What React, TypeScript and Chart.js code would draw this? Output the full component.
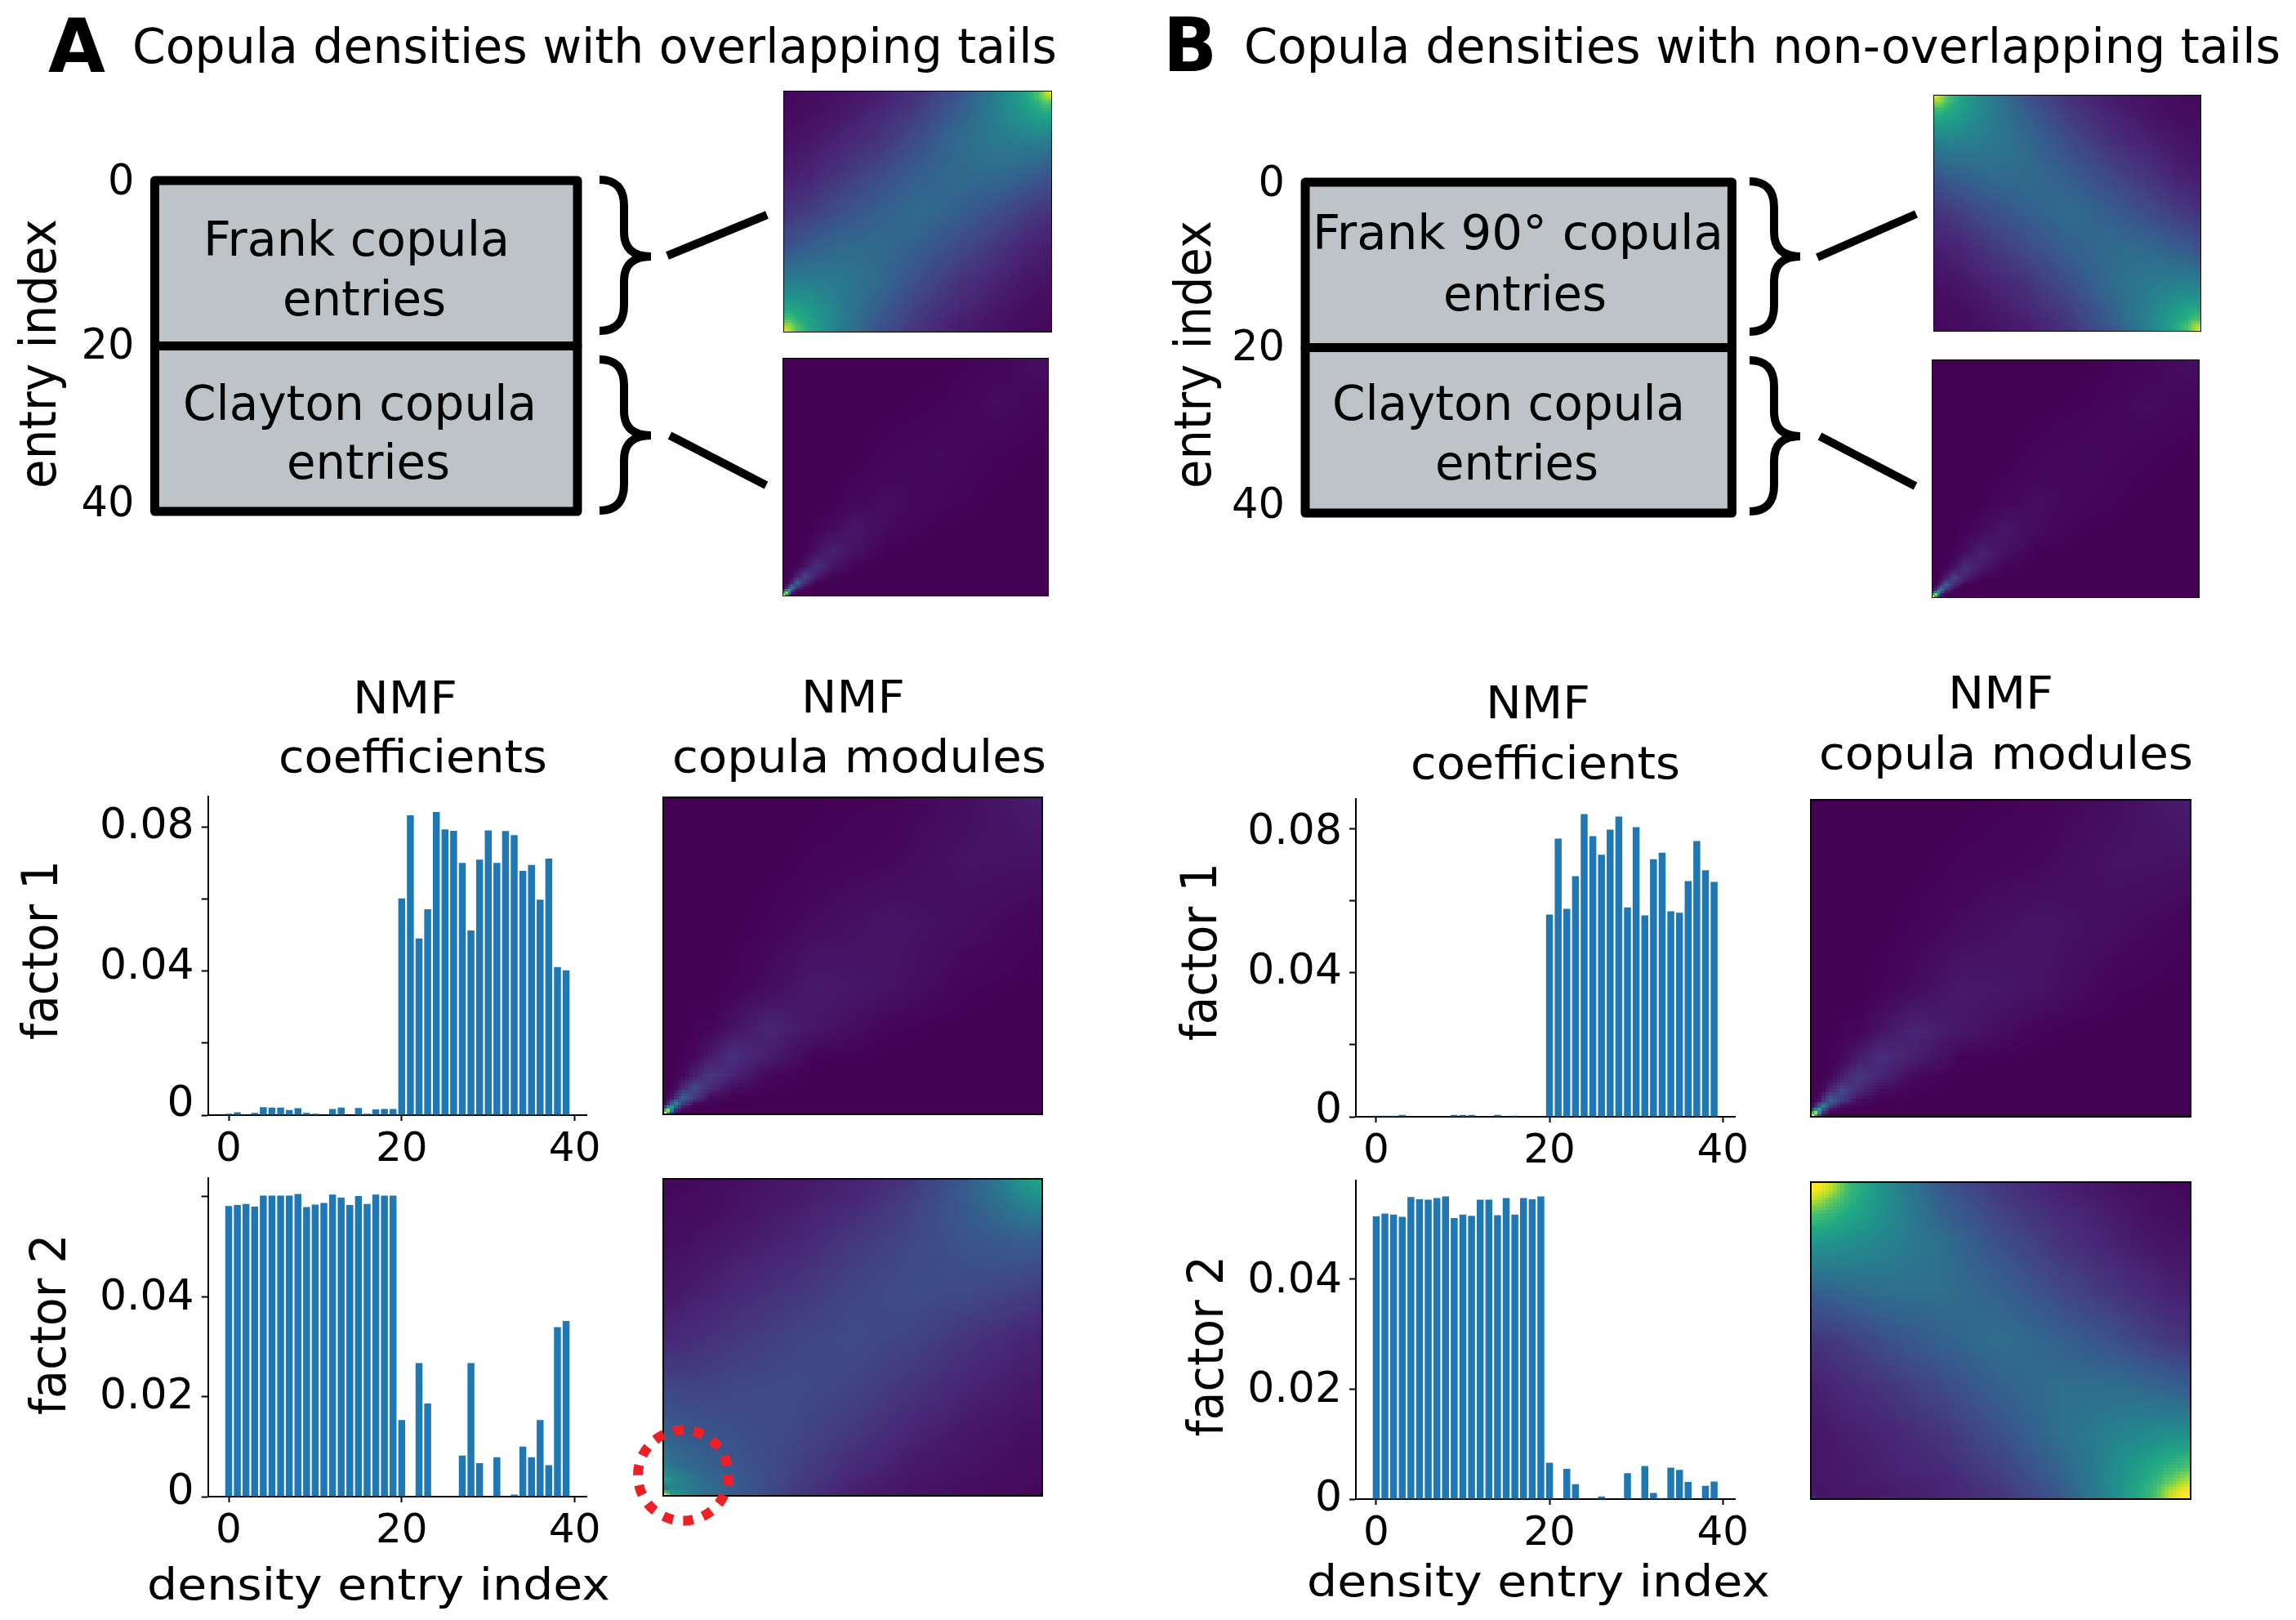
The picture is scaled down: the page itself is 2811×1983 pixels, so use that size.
import React, { useEffect, useRef } from "react";
import { Chart, registerables } from "chart.js";

Chart.register(...registerables);

// ---------- bar values (index 0..39) ----------
const entryIndex = Array.from({ length: 40 }, (_, i) => i);
const coefA1 = [0.0004,0.0008,0,0.0006,0.0022,0.0021,0.0021,0.0014,0.0019,0.0006,0.0004,0,0.0017,0.0021,0,0.002,0.0004,0.0016,0.0017,0.0017,0.0601,0.0832,0.049,0.0571,0.0841,0.0793,0.0789,0.07,0.0512,0.0709,0.079,0.07,0.0788,0.0777,0.0678,0.0694,0.0598,0.0712,0.0411,0.0402];
const coefA2 = [0.0581,0.0583,0.0585,0.058,0.0602,0.0602,0.0602,0.0602,0.0605,0.0579,0.0584,0.0587,0.0604,0.0598,0.0583,0.0601,0.0585,0.0604,0.0602,0.0602,0.0153,0,0.0267,0.0186,0,0,0,0.0082,0.0267,0.0067,0,0.0079,0,0.0004,0.01,0.0079,0.0153,0.0063,0.0339,0.0351];
const coefB1 = [0.0003,0.0003,0.0003,0.0005,0,0,0,0,0,0.0005,0.0005,0.0005,0,0,0.0005,0,0.0003,0,0,0,0.0561,0.0772,0.0577,0.0668,0.084,0.0779,0.0727,0.0797,0.0833,0.0581,0.0804,0.0559,0.0715,0.0733,0.057,0.0566,0.0654,0.0765,0.0684,0.0652];
const coefB2 = [0.0513,0.0518,0.0516,0.0512,0.0548,0.0544,0.0543,0.0546,0.0549,0.051,0.0516,0.0514,0.0543,0.0543,0.0515,0.0546,0.0516,0.0546,0.0544,0.0549,0.0066,0,0.0055,0.0027,0,0,0.0005,0,0,0.0047,0,0.006,0.0011,0.0002,0.0057,0.0053,0.0031,0,0.0024,0.0032];

// ---------- ticks: tick marks, then labels (the reference's labels sit slightly off their marks) ----------
const xTickValues = [0, 20, 40];
const factor1Marks = [0, 0.02, 0.04, 0.06, 0.08];
const factorA2Marks = [0, 0.02, 0.04, 0.06];
const factorB2Marks = [0, 0.02, 0.04];
const labelsA1 = ["0", "0.04", "0.08"];
const labelSpotsA1 = [0.0028, 0.041, 0.08];
const labelsA2 = ["0", "0.02", "0.04"];
const labelSpotsA2 = [0.0007, 0.0198, 0.0396];
const labelsB1 = ["0", "0.04", "0.08"];
const labelSpotsB1 = [0.0015, 0.04, 0.0789];
const labelsB2 = ["0", "0.02", "0.04"];
const labelSpotsB2 = [0, 0.0197, 0.0395];
const entryTicks = [0.4, 20.2, 39.3];
const entryLabels = ["0", "20", "40"];

// ---------- density grids: rows run bottom to top, columns left to right ----------
const frankKnots = [0.5, 2.5, 5.5, 10, 20, 35, 50, 65, 80, 90, 94.5, 97.5, 99.5];
const clayKnots = [0.5, 1.5, 2.5, 3.5, 5.5, 8.5, 12.5, 18.5, 27.5, 40, 60, 80, 99.5];

const frankRows = [
  [1.0,.87,.70,.58,.42,.25,.14,.08,.04,.03,.02,.02,.02],
  [.87,.84,.70,.58,.43,.26,.15,.08,.05,.03,.03,.02,.02],
  [.70,.70,.63,.56,.44,.28,.16,.09,.05,.03,.03,.03,.02],
  [.58,.58,.56,.53,.43,.30,.18,.11,.06,.04,.03,.03,.03],
  [.42,.43,.44,.43,.41,.34,.23,.14,.09,.06,.05,.05,.04],
  [.25,.26,.28,.30,.34,.35,.30,.22,.15,.10,.09,.08,.08],
  [.14,.15,.16,.18,.23,.30,.35,.30,.23,.18,.16,.15,.14],
  [.08,.08,.09,.10,.15,.22,.30,.35,.34,.30,.28,.26,.25],
  [.04,.05,.05,.06,.09,.14,.23,.34,.41,.43,.44,.43,.42],
  [.03,.03,.03,.04,.06,.11,.18,.30,.43,.53,.56,.58,.58],
  [.02,.03,.03,.03,.05,.09,.16,.28,.44,.56,.63,.70,.70],
  [.02,.02,.03,.03,.05,.08,.15,.26,.43,.58,.70,.84,.87],
  [.02,.02,.02,.03,.04,.08,.14,.25,.42,.58,.70,.87,1.0],
];
const claytonRows = [
  [1.0,.55,.15,.03,0,0,0,0,0,0,0,0,0],
  [.55,.80,.40,.10,.01,0,0,0,0,0,0,0,0],
  [.15,.40,.55,.25,.05,.01,0,0,0,0,0,0,0],
  [.03,.10,.25,.42,.15,.02,0,0,0,0,0,0,0],
  [0,.01,.05,.11,.28,.12,.01,0,0,0,0,0,0],
  [0,0,.01,.02,.08,.19,.08,.01,0,0,0,0,0],
  [0,0,0,0,.01,.05,.13,.06,.01,0,0,0,0],
  [0,0,0,0,0,.01,.04,.09,.04,0,0,0,0],
  [0,0,0,0,0,0,.01,.03,.06,.025,0,0,0],
  [0,0,0,0,0,0,0,0,.02,.03,.015,0,0],
  [0,0,0,0,0,0,0,0,0,.015,.025,.01,0],
  [0,0,0,0,0,0,0,0,0,0,.01,.03,.015],
  [0,0,0,0,0,0,0,0,0,0,0,.015,.04],
];
const moduleClayRows = [
  [1.0,.65,.20,.04,0,0,0,0,0,0,0,0,0],
  [.65,.85,.45,.12,.02,0,0,0,0,0,0,0,0],
  [.20,.45,.55,.28,.06,.01,0,0,0,0,0,0,0],
  [.04,.12,.28,.42,.17,.03,.01,0,0,0,0,0,0],
  [0,.02,.06,.15,.30,.16,.03,.01,0,0,0,0,0],
  [0,0,.01,.03,.11,.21,.12,.03,.01,0,0,0,0],
  [0,0,0,.01,.02,.08,.16,.10,.02,0,0,0,0],
  [0,0,0,0,.01,.02,.07,.13,.08,.01,0,0,0],
  [0,0,0,0,0,.01,.01,.05,.10,.06,.01,0,0],
  [0,0,0,0,0,0,0,.01,.03,.07,.05,.01,0],
  [0,0,0,0,0,0,0,0,.01,.03,.055,.035,.01],
  [0,0,0,0,0,0,0,0,0,.01,.02,.05,.045],
  [0,0,0,0,0,0,0,0,0,0,.01,.035,.08],
];
const moduleA2Rows = [
  [.98,.60,.50,.38,.28,.16,.08,.05,.03,.03,.02,.02,.02],
  [.40,.45,.42,.38,.28,.17,.09,.05,.04,.03,.03,.02,.02],
  [.55,.48,.42,.36,.28,.18,.10,.06,.04,.03,.03,.03,.02],
  [.42,.38,.34,.32,.26,.19,.12,.07,.05,.04,.03,.03,.03],
  [.30,.29,.28,.26,.24,.21,.16,.10,.06,.05,.04,.04,.04],
  [.20,.20,.19,.19,.21,.22,.20,.15,.10,.08,.07,.07,.06],
  [.11,.11,.12,.13,.16,.20,.22,.20,.15,.12,.10,.10,.09],
  [.06,.06,.07,.08,.11,.15,.20,.23,.22,.20,.19,.18,.17],
  [.03,.04,.04,.05,.07,.10,.16,.21,.26,.28,.29,.29,.28],
  [.02,.03,.03,.03,.05,.08,.12,.19,.28,.36,.40,.42,.42],
  [.02,.02,.03,.03,.05,.07,.10,.17,.29,.40,.47,.50,.52],
  [.02,.02,.02,.03,.04,.07,.10,.16,.29,.42,.50,.54,.56],
  [.02,.02,.02,.03,.04,.06,.09,.15,.28,.42,.52,.56,.58],
];
const moduleB2Rows = [
  [.10,.05,.06,.06,.08,.10,.15,.26,.48,.68,.92,1.0,1.0],
  [.06,.05,.06,.06,.07,.10,.16,.27,.48,.68,.90,.98,1.0],
  [.06,.06,.06,.07,.08,.10,.17,.29,.49,.65,.78,.88,.92],
  [.06,.06,.07,.07,.09,.12,.19,.31,.48,.60,.66,.70,.72],
  [.06,.06,.07,.08,.10,.15,.24,.36,.44,.48,.50,.50,.50],
  [.08,.09,.10,.12,.15,.22,.31,.36,.36,.33,.31,.30,.29],
  [.14,.15,.16,.18,.24,.31,.36,.31,.24,.18,.16,.15,.14],
  [.29,.30,.31,.33,.36,.36,.31,.22,.15,.11,.09,.09,.08],
  [.50,.50,.50,.48,.44,.36,.24,.15,.09,.06,.05,.05,.05],
  [.72,.70,.66,.60,.48,.31,.19,.12,.07,.04,.04,.03,.03],
  [.92,.88,.78,.65,.49,.29,.17,.10,.06,.04,.03,.03,.02],
  [1.0,.98,.90,.68,.48,.27,.16,.09,.05,.03,.03,.02,.02],
  [1.0,1.0,.92,.68,.48,.26,.15,.09,.05,.03,.02,.02,.02],
];
const viridisStops = ["#440154","#482475","#414487","#355f8d","#2a788e","#21918c","#22a884","#44bf70","#7ad151","#bddf26","#fde725"];

const FONT = "'DejaVu Sans'";
const BAR_COLOR = "#1f77b4";
const BOX_COLOR = "#bdc3c7";

// ---------- helpers ----------
const hexRgb = (h: string) => [1, 3, 5].map((i) => parseInt(h.slice(i, i + 2), 16));
const stopsRgb = viridisStops.map(hexRgb);
function viridis(v: number) {
  const t = Math.max(0, Math.min(0.9999, v)) * (stopsRgb.length - 1);
  const i = Math.floor(t);
  const f = t - i;
  const c = stopsRgb[i].map((a, k) => Math.round(a + (stopsRgb[i + 1][k] - a) * f));
  return `rgb(${c[0]},${c[1]},${c[2]})`;
}
function bracket(knots: number[], p: number): [number, number] {
  if (p <= knots[0]) return [0, 0];
  const n = knots.length;
  if (p >= knots[n - 1]) return [n - 2, 1];
  let i = 0;
  while (knots[i + 1] < p) i++;
  return [i, (p - knots[i]) / (knots[i + 1] - knots[i])];
}

const heatPlugin = {
  id: "heat",
  beforeDatasetsDraw(chart: any) {
    const ds = chart.data.datasets[0];
    const { knots, frame } = ds;
    const n = knots.length;
    const pts = ds.data;
    const at = (r: number, c: number) => pts[r * n + c].v;
    const { x, y } = chart.scales;
    const ctx = chart.ctx;
    ctx.save();
    for (let r = 0; r < 100; r++) {
      const [ri, rf] = bracket(knots, r + 0.5);
      const top = Math.round(y.getPixelForValue(r + 1));
      const bot = Math.round(y.getPixelForValue(r));
      for (let c = 0; c < 100; c++) {
        const [ci, cf] = bracket(knots, c + 0.5);
        const ci2 = Math.min(n - 1, ci + 1);
        const ri2 = Math.min(n - 1, ri + 1);
        const v =
          at(ri, ci) * (1 - rf) * (1 - cf) +
          at(ri, ci2) * (1 - rf) * cf +
          at(ri2, ci) * rf * (1 - cf) +
          at(ri2, ci2) * rf * cf;
        const l = Math.round(x.getPixelForValue(c));
        const rr = Math.round(x.getPixelForValue(c + 1));
        ctx.fillStyle = viridis(v);
        ctx.fillRect(l, top, rr - l, bot - top);
      }
    }
    const a = chart.chartArea;
    ctx.strokeStyle = "#000";
    ctx.lineWidth = frame;
    ctx.strokeRect(a.left + frame / 2, a.top + frame / 2, a.right - a.left - frame, a.bottom - a.top - frame);
    ctx.restore();
  },
};

function heatConfig(knots: number[], rows: number[][], frame: number) {
  const data: any[] = [];
  rows.forEach((row, r) => row.forEach((v, c) => data.push({ x: knots[c], y: knots[r], v })));
  return {
    type: "scatter",
    data: { datasets: [{ data, knots, frame, pointRadius: 0, pointHoverRadius: 0 }] },
    plugins: [heatPlugin],
    options: {
      animation: false,
      responsive: false,
      devicePixelRatio: 1,
      events: [],
      layout: { padding: 0 },
      plugins: { legend: { display: false }, tooltip: { enabled: false } },
      scales: {
        x: { type: "linear", min: 0, max: 100, display: false },
        y: { type: "linear", min: 0, max: 100, display: false },
      },
    },
  };
}

// Fix an axis box size and drop Chart.js' extra room for overhanging tick labels.
const fit = (size: number, key: "width" | "height") => (s: any) => {
  s[key] = size;
  s.paddingTop = 0;
  s.paddingBottom = 0;
  s.paddingLeft = 0;
  s.paddingRight = 0;
};

const MARK_AXIS_W = 17;

function barConfig(o: {
  values: number[];
  yMax: number;
  marks: number[];
  labels: string[];
  spots: number[];
  xMin: number;
  xMax: number;
  axisW: number;
  axisH: number;
  padTop: number;
  padRight: number;
}) {
  return {
    type: "bar",
    data: {
      datasets: [
        {
          data: entryIndex.map((i) => ({ x: i, y: o.values[i] })),
          yAxisID: "y",
          backgroundColor: BAR_COLOR,
          borderWidth: 0,
          barPercentage: 0.8,
          categoryPercentage: 1,
        },
      ],
    },
    options: {
      animation: false,
      responsive: false,
      devicePixelRatio: 1,
      events: [],
      layout: { padding: { top: o.padTop, right: o.padRight, left: 0, bottom: 0 } },
      plugins: { legend: { display: false }, tooltip: { enabled: false } },
      scales: {
        x: {
          type: "linear",
          min: o.xMin,
          max: o.xMax,
          offset: false,
          afterFit: fit(o.axisH, "height"),
          afterBuildTicks: (a: any) => {
            a.ticks = xTickValues.map((value) => ({ value }));
          },
          grid: { offset: false, drawOnChartArea: false, tickLength: 7, tickWidth: 2, tickColor: "#000" },
          border: { display: true, color: "#000", width: 2 },
          ticks: {
            autoSkip: false,
            maxRotation: 0,
            color: "#000",
            padding: 6,
            font: { family: FONT, size: 50 },
            callback: (v: number) => String(v),
          },
        },
        y: {
          type: "linear",
          position: "left",
          weight: 0,
          min: 0,
          max: o.yMax,
          afterFit: fit(MARK_AXIS_W, "width"),
          afterBuildTicks: (a: any) => {
            a.ticks = o.marks.map((value) => ({ value }));
          },
          grid: { drawOnChartArea: false, tickLength: 8, tickWidth: 2, tickColor: "#000" },
          border: { display: true, color: "#000", width: 2 },
          ticks: { display: false, autoSkip: false },
        },
        yLabels: {
          type: "linear",
          position: "left",
          weight: 1,
          display: true,
          min: 0,
          max: o.yMax,
          afterFit: fit(o.axisW - MARK_AXIS_W, "width"),
          afterBuildTicks: (a: any) => {
            a.ticks = o.spots.map((value) => ({ value }));
          },
          grid: { display: false, drawTicks: false },
          border: { display: false },
          ticks: {
            autoSkip: false,
            color: "#000",
            padding: 0,
            font: { family: FONT, size: 52 },
            callback: (_v: number, i: number) => o.labels[i],
          },
        },
      },
    },
  };
}

const boxOutline = {
  id: "boxOutline",
  afterDatasetsDraw(chart: any) {
    const ctx = chart.ctx;
    ctx.save();
    ctx.strokeStyle = "#000";
    ctx.lineWidth = 11;
    ctx.lineJoin = "round";
    chart.data.datasets.forEach((_: any, i: number) => {
      const b = chart.getDatasetMeta(i).data[0].getProps(["x", "y", "base", "width"], true);
      ctx.strokeRect(b.x - b.width / 2, Math.min(b.y, b.base), b.width, Math.abs(b.base - b.y));
    });
    ctx.restore();
  },
};

function boxConfig(padTop: number, padBottom: number, axisW: number, padRight: number) {
  return {
    type: "bar",
    data: {
      labels: ["entries"],
      datasets: [
        { data: [[0, 20]], backgroundColor: BOX_COLOR, borderWidth: 0, grouped: false, barPercentage: 1, categoryPercentage: 1 },
        { data: [[20, 40]], backgroundColor: BOX_COLOR, borderWidth: 0, grouped: false, barPercentage: 1, categoryPercentage: 1 },
      ],
    },
    plugins: [boxOutline],
    options: {
      animation: false,
      responsive: false,
      devicePixelRatio: 1,
      events: [],
      layout: { padding: { top: padTop, bottom: padBottom, left: 0, right: padRight } },
      plugins: { legend: { display: false }, tooltip: { enabled: false } },
      scales: {
        x: { display: false },
        y: {
          type: "linear",
          reverse: true,
          min: 0,
          max: 40,
          afterFit: fit(axisW, "width"),
          afterBuildTicks: (a: any) => {
            a.ticks = entryTicks.map((value) => ({ value }));
          },
          grid: { display: false },
          border: { display: false },
          ticks: {
            autoSkip: false,
            color: "#000",
            padding: 17,
            font: { family: FONT, size: 51 },
            callback: (_v: number, i: number) => entryLabels[i],
          },
        },
      },
    },
  };
}

function Panel({ rect, config }: { rect: number[]; config: () => any }) {
  const ref = useRef<HTMLCanvasElement | null>(null);
  useEffect(() => {
    const chart = new Chart(ref.current as any, config());
    return () => chart.destroy();
  }, []);
  const [left, top, width, height] = rect;
  return <canvas ref={ref} width={width} height={height} style={{ position: "absolute", left, top, width, height }} />;
}

type Lab = { t: string; x: number; y: number; w: number; s: number; rot?: boolean; bold?: boolean };
const labels: Lab[] = [
  { t: "A", x: 59, y: 88, w: 70, s: 90, bold: true },
  { t: "B", x: 1424, y: 87, w: 66, s: 90, bold: true },
  { t: "Copula densities with overlapping tails", x: 162, y: 77, w: 1132, s: 58 },
  { t: "Copula densities with non-overlapping tails", x: 1523, y: 77, w: 1269, s: 58 },
  { t: "entry index", x: 68, y: 598, w: 330, s: 63, rot: true },
  { t: "entry index", x: 1482, y: 598, w: 328, s: 63, rot: true },
  { t: "Frank copula", x: 249, y: 313, w: 375, s: 58 },
  { t: "entries", x: 346, y: 386, w: 200, s: 58 },
  { t: "Clayton copula", x: 224, y: 514, w: 433, s: 58 },
  { t: "entries", x: 351, y: 586, w: 200, s: 58 },
  { t: "Frank 90° copula", x: 1607, y: 305, w: 503, s: 58 },
  { t: "entries", x: 1767, y: 380, w: 200, s: 58 },
  { t: "Clayton copula", x: 1631, y: 514, w: 432, s: 58 },
  { t: "entries", x: 1757, y: 587, w: 200, s: 58 },
  { t: "NMF", x: 432, y: 873, w: 128, s: 56 },
  { t: "coefficients", x: 341, y: 945, w: 329, s: 56 },
  { t: "NMF", x: 981, y: 872, w: 127, s: 56 },
  { t: "copula modules", x: 823, y: 945, w: 458, s: 56 },
  { t: "NMF", x: 1819, y: 879, w: 128, s: 56 },
  { t: "coefficients", x: 1727, y: 952.7, w: 330, s: 56 },
  { t: "NMF", x: 2385, y: 867, w: 129, s: 56 },
  { t: "copula modules", x: 2227, y: 940.7, w: 458, s: 56 },
  { t: "factor 1", x: 70, y: 1273, w: 220, s: 61, rot: true },
  { t: "factor 2", x: 80, y: 1732, w: 221.5, s: 61, rot: true },
  { t: "factor 1", x: 1489, y: 1274, w: 218, s: 61, rot: true },
  { t: "factor 2", x: 1497, y: 1758.5, w: 221.5, s: 60, rot: true },
  { t: "density entry index", x: 180, y: 1958, w: 567, s: 54 },
  { t: "density entry index", x: 1600, y: 1954, w: 567, s: 54 },
];

const brace = (x0: number, xm: number, xt: number, y0: number, ym: number, y1: number) =>
  `M${x0} ${y0} Q${xm} ${y0} ${xm} ${y0 + 32} L${xm} ${ym - 30} Q${xm} ${ym} ${xt} ${ym} Q${xm} ${ym} ${xm} ${ym + 30} L${xm} ${y1 - 32} Q${xm} ${y1} ${x0} ${y1}`;

const decorations = [
  brace(734, 764, 797, 220, 314, 405),
  brace(734, 764, 797, 440, 533, 625),
  brace(2142, 2172, 2204, 222, 314, 406),
  brace(2142, 2172, 2204, 441, 534, 626),
  "M817 313 L939 263",
  "M820 533 L938 594",
  "M2225 315 L2346 262",
  "M2228 534 L2345 595",
];

export default function App() {
  return (
    <div style={{ position: "absolute", left: 0, top: 0, width: 2811, height: 1983, background: "#fff", overflow: "hidden" }}>
      <Panel rect={[90, 190, 640, 470]} config={() => boxConfig(31, 34, 99.5, 23)} />
      <Panel rect={[1500, 190, 640, 470]} config={() => boxConfig(33, 32, 98, 19.6)} />

      <Panel rect={[959, 111, 329, 296]} config={() => heatConfig(frankKnots, frankRows, 1)} />
      <Panel rect={[958, 438, 326, 292]} config={() => heatConfig(clayKnots, claytonRows, 1)} />
      <Panel rect={[2367, 116, 328, 290]} config={() => heatConfig(frankKnots, frankRows.map((r) => [...r].reverse()), 1)} />
      <Panel rect={[2365, 440, 328, 292]} config={() => heatConfig(clayKnots, claytonRows, 1)} />

      <Panel rect={[811, 975, 466, 390]} config={() => heatConfig(clayKnots, moduleClayRows, 2)} />
      <Panel rect={[811, 1442, 466, 390]} config={() => heatConfig(frankKnots, moduleA2Rows, 2)} />
      <Panel rect={[2216, 978, 467, 390]} config={() => heatConfig(clayKnots, moduleClayRows, 2)} />
      <Panel rect={[2216, 1446, 467, 390]} config={() => heatConfig(frankKnots, moduleB2Rows, 2)} />

      <Panel
        rect={[110, 960, 650, 480]}
        config={() => barConfig({ values: coefA1, yMax: 0.0884, marks: factor1Marks, labels: labelsA1, spots: labelSpotsA1, xMin: -2.39, xMax: 41.4, axisW: 144.7, axisH: 75, padTop: 15, padRight: 41.5 })}
      />
      <Panel
        rect={[110, 1425, 650, 482]}
        config={() => barConfig({ values: coefA2, yMax: 0.0637, marks: factorA2Marks, labels: labelsA2, spots: labelSpotsA2, xMin: -2.39, xMax: 41.4, axisW: 144.7, axisH: 75, padTop: 17, padRight: 41.5 })}
      />
      <Panel
        rect={[1515, 963, 650, 479]}
        config={() => barConfig({ values: coefB1, yMax: 0.0882, marks: factor1Marks, labels: labelsB1, spots: labelSpotsB1, xMin: -2.35, xMax: 41.46, axisW: 145, axisH: 75, padTop: 15, padRight: 40.3 })}
      />
      <Panel
        rect={[1515, 1428, 650, 482]}
        config={() => barConfig({ values: coefB2, yMax: 0.0578, marks: factorB2Marks, labels: labelsB2, spots: labelSpotsB2, xMin: -2.35, xMax: 41.46, axisW: 145, axisH: 75, padTop: 17, padRight: 40.3 })}
      />

      <svg width={2811} height={1983} style={{ position: "absolute", left: 0, top: 0, pointerEvents: "none" }}>
        {decorations.map((d, i) => (
          <path key={i} d={d} fill="none" stroke="#000" strokeWidth={10} />
        ))}
        <circle cx={836.5} cy={1806} r={55.5} fill="none" stroke="#ee2025" strokeWidth={12} strokeDasharray="12.5 12.4" />
        {labels.map((l, i) => (
          <text
            key={i}
            x={l.x}
            y={l.y}
            fontFamily={FONT}
            fontSize={l.s}
            fontWeight={l.bold ? 900 : 400}
            fill="#000"
            textLength={l.w}
            lengthAdjust="spacingAndGlyphs"
            transform={l.rot ? `rotate(-90 ${l.x} ${l.y})` : undefined}
          >
            {l.t}
          </text>
        ))}
      </svg>
    </div>
  );
}
